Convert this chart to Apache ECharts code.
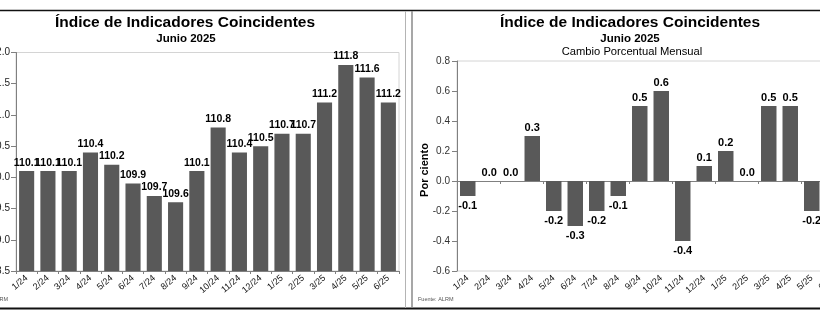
<!DOCTYPE html>
<html>
<head>
<meta charset="utf-8">
<script src="https://cdn.jsdelivr.net/npm/echarts@6/dist/echarts.min.js"></script>
<style>
  html, body { margin: 0; padding: 0; background: #fff; }
  #chart { width: 820px; height: 323px; }
</style>
</head>
<body>
<div id="chart"></div>
<script>
// Months shown on both panels
const months = ['1/24','2/24','3/24','4/24','5/24','6/24','7/24','8/24','9/24','10/24','11/24','12/24','1/25','2/25','3/25','4/25','5/25','6/25'];
// Coincident index level
const indexValues = [110.1,110.1,110.1,110.4,110.2,109.9,109.7,109.6,110.1,110.8,110.4,110.5,110.7,110.7,111.2,111.8,111.6,111.2];
// Monthly percent change
const monthlyChange = [-0.1,0.0,0.0,0.3,-0.2,-0.3,-0.2,-0.1,0.5,0.6,-0.4,0.1,0.2,0.0,0.5,0.5,-0.2,-0.4];
// Value-axis ticks
const indexTicks = [108.5,109.0,109.5,110.0,110.5,111.0,111.5,112.0];
const changeTicks = [-0.6,-0.4,-0.2,0.0,0.2,0.4,0.6,0.8];

const FONT = "'Liberation Sans', Arial, sans-serif";
const BAR = '#595959';
const AXIS = '#808080';

const chart = echarts.init(document.getElementById('chart'), null, { renderer: 'canvas' });

function text(x, y, str, font, extra) {
  return {
    type: 'text', x: x, y: y, silent: true,
    style: Object.assign({
      text: str, font: font, fill: '#000',
      align: 'center', verticalAlign: 'middle',
      textAlign: 'center', textVerticalAlign: 'middle'
    }, extra || {})
  };
}
function line(x1, y1, x2, y2, color, w) {
  return { type: 'line', silent: true, shape: { x1: x1, y1: y1, x2: x2, y2: y2 },
           style: { stroke: color, lineWidth: w } };
}

const valueLabel = {
  show: true, fontFamily: FONT, fontWeight: 'bold', color: '#000',
  formatter: p => p.value.toFixed(1)
};

const changeData = monthlyChange.map(v => ({
  value: v,
  label: { position: v < 0 ? 'bottom' : 'top', distance: v < 0 ? 4 : 3 }
}));

const monthLabel = { rotate: 40, fontSize: 9, fontFamily: FONT, color: '#111', margin: 6, interval: 0 };

const option = {
  animation: false,
  backgroundColor: '#fff',
  grid: [
    { left: 16, top: 52.5, width: 383, height: 218.5, show: true, borderColor: '#d4d4d4', borderWidth: 1,
      containLabel: false, outerBoundsMode: 'none' },
    { left: 457, top: 61, width: 387, height: 210, show: true, borderColor: '#d4d4d4', borderWidth: 1,
      containLabel: false, outerBoundsMode: 'none' }
  ],
  xAxis: [
    {
      gridIndex: 0, type: 'category', data: months, position: 'bottom',
      axisLine: { lineStyle: { color: AXIS } },
      axisTick: { show: true, length: 3, lineStyle: { color: AXIS } },
      axisLabel: monthLabel
    },
    {
      gridIndex: 1, type: 'category', data: months, position: 'bottom',
      axisLine: { show: false, onZero: false },
      axisTick: { show: false },
      axisLabel: monthLabel
    },
    {
      gridIndex: 1, type: 'category', data: months, position: 'bottom',
      axisLine: { show: true, onZero: true, lineStyle: { color: AXIS } },
      axisTick: { show: true, length: 3, lineStyle: { color: AXIS } },
      axisLabel: { show: false }
    }
  ],
  yAxis: [
    {
      gridIndex: 0, type: 'value',
      min: indexTicks[0], max: indexTicks[indexTicks.length - 1], interval: indexTicks[1] - indexTicks[0],
      splitLine: { show: false },
      axisLine: { show: true, lineStyle: { color: AXIS } },
      axisTick: { show: true, length: 5, lineStyle: { color: AXIS } },
      axisLabel: { fontSize: 10, fontFamily: FONT, color: '#222', margin: 6, formatter: v => v.toFixed(1) }
    },
    {
      gridIndex: 1, type: 'value',
      min: changeTicks[0], max: changeTicks[changeTicks.length - 1], interval: 0.2,
      splitLine: { show: false },
      axisLine: { show: true, lineStyle: { color: AXIS } },
      axisTick: { show: true, length: 5, lineStyle: { color: AXIS } },
      axisLabel: { fontSize: 10, fontFamily: FONT, color: '#333', margin: 7, formatter: v => v.toFixed(1) }
    }
  ],
  series: [
    {
      type: 'bar', xAxisIndex: 0, yAxisIndex: 0, data: indexValues,
      barCategoryGap: '29%', itemStyle: { color: BAR },
      label: Object.assign({ position: 'top', distance: 3, fontSize: 10.5 }, valueLabel)
    },
    {
      type: 'bar', xAxisIndex: 1, yAxisIndex: 1, data: changeData,
      barCategoryGap: '28%', itemStyle: { color: BAR },
      label: Object.assign({ fontSize: 11 }, valueLabel)
    }
  ],
  graphic: [
    // frame lines
    line(0, 10.5, 820, 10.5, '#111', 1.5),
    line(0, 308.5, 820, 308.5, '#111', 2),
    line(405.5, 11, 405.5, 308, '#b4b4b4', 1),
    line(412, 11, 412, 308, '#8a8a8a', 1.5),
    // left panel titles
    text(185, 23, 'Índice de Indicadores Coincidentes', 'bold 15.5px ' + FONT),
    text(186, 38.5, 'Junio 2025', 'bold 11.5px ' + FONT),
    text(8, 299, 'Fuente: ALRM', '5.5px ' + FONT, { fill: '#555', align: 'right', textAlign: 'right' }),
    // right panel titles
    text(630, 23, 'Índice de Indicadores Coincidentes', 'bold 15.5px ' + FONT),
    text(630, 38.5, 'Junio 2025', 'bold 11.5px ' + FONT),
    text(632, 52, 'Cambio Porcentual Mensual', '11.2px ' + FONT),
    Object.assign(text(425, 170, 'Por ciento', 'bold 11px ' + FONT), { rotation: Math.PI / 2 }),
    text(418, 299, 'Fuente: ALRM', '5.5px ' + FONT, { fill: '#555', align: 'left', textAlign: 'left' })
  ]
};

chart.setOption(option);
</script>
</body>
</html>
